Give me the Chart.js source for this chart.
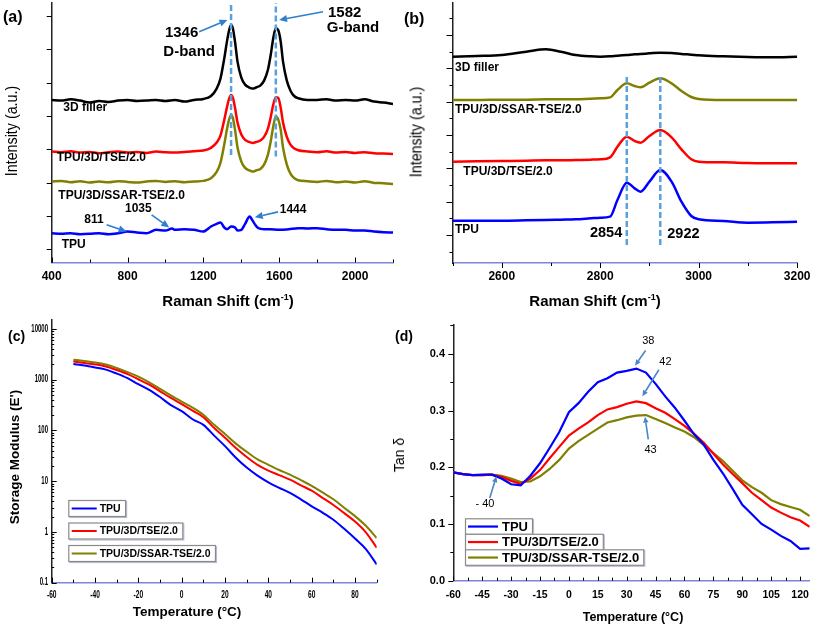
<!DOCTYPE html>
<html>
<head>
<meta charset="utf-8">
<title>Raman spectra and DMA</title>
<script src="https://cdn.jsdelivr.net/npm/chart.js@4.4.1/dist/chart.umd.min.js"></script>
<style>
  body { margin: 0; background: #fff; }
  #fig { position: relative; width: 817px; height: 627px; overflow: hidden; font-family: "Liberation Sans", Arial, sans-serif; color: #000; }
  #fig canvas { position: absolute; }
  .lbl { position: absolute; white-space: nowrap; line-height: 1; }
  .rot { transform: translate(-50%, -50%) rotate(-90deg); }
  .rotn { transform: translate(-50%, -50%) rotate(-90deg) scaleX(0.84); }
  .ctr { transform: translate(-50%, -50%); }
  .sup { font-size: 9px; position: relative; top: -6px; }
</style>
</head>
<body>
<div id="fig">
  <canvas id="ramanLow" width="410" height="310" style="left:0;top:0"></canvas>
  <canvas id="ramanHigh" width="407" height="310" style="left:410px;top:0"></canvas>
  <canvas id="storage" width="410" height="317" style="left:0;top:310px"></canvas>
  <canvas id="tandelta" width="432" height="317" style="left:385px;top:310px"></canvas>

  <div class="lbl" style="left:3px;top:9px;font-weight:bold;font-size:16px">(a)</div>
  <div class="lbl" style="left:404px;top:11px;font-weight:bold;font-size:16px">(b)</div>
  <div class="lbl" style="left:8px;top:329px;font-weight:bold;font-size:14px">(c)</div>
  <div class="lbl" style="left:395px;top:329px;font-weight:bold;font-size:14px">(d)</div>

  <div class="lbl ctr" style="left:228px;top:300px;font-weight:bold;font-size:15px">Raman Shift (cm<span class="sup">-1</span>)</div>
  <div class="lbl ctr" style="left:595px;top:300px;font-weight:bold;font-size:15px">Raman Shift (cm<span class="sup">-1</span>)</div>
  <div class="lbl rotn" style="left:11px;top:131px;font-size:17px">Intensity (a.u.)</div>
  <div class="lbl rotn" style="left:416px;top:132px;font-size:17px">Intensity (a.u.)</div>
  <div class="lbl rot" style="left:15px;top:457px;font-weight:bold;font-size:13.5px">Storage Modulus (E')</div>
  <div class="lbl ctr" style="left:187px;top:612px;font-weight:bold;font-size:13.5px">Temperature (°C)</div>
  <div class="lbl rot" style="left:399px;top:455px;font-size:14px">Tan δ</div>
  <div class="lbl ctr" style="left:633px;top:617px;font-weight:bold;font-size:12.5px">Temperature (°C)</div>
</div>

<script>
// ---- (a) Raman 400-2200 cm-1, stacked, arbitrary units ----
const ramanX = [400,450,500,550,600,650,700,750,800,850,900,950,1000,1050,1100,1150,1200,
  1240,1270,1290,1310,1325,1337,1346,1355,1367,1380,
  1400,1420,1440,1460,1480,1500,1520,1540,
  1555,1568,1582,1595,1608,1620,
  1640,1660,1680,1700,
  1750,1800,1850,1900,1950,2000,2050,2100,2150,2200];
const filler3D = [448,446,450,446,440,445,442,446,448,445,446,448,445,448,443,448,451,
  460,482,512,572,626,660,673,664,622,563,
  515,494,486,482,486,491,506,538,
  583,632,663,657,622,563,
  506,475,459,453,
  448,448,450,446,448,446,450,443,440,436];
const tse20 = [293,291,294,290,292,288,291,293,290,292,289,293,291,290,292,294,296,
  304,320,341,388,428,454,463,456,424,380,
  344,328,322,319,322,326,337,361,
  396,433,456,454,424,380,
  337,313,302,297,
  293,291,294,290,292,289,291,288,287,286];
const ssarTse20 = [203,205,201,204,200,203,201,204,202,200,203,205,202,204,201,203,205,
  213,232,259,314,362,392,403,395,358,305,
  263,244,237,233,237,241,254,283,
  323,367,398,389,358,305,
  254,226,213,207,
  204,202,205,201,203,200,204,199,198,196];
const tpuRamanX = [400,450,500,550,600,650,700,750,800,850,900,950,1000,1035,
  1050,1100,1150,1200,1240,1270,1290,1310,1325,1346,1367,1380,
  1400,1420,1444,1455,1470,1490,1520,1550,1600,1650,1700,
  1750,1800,1850,1900,1950,2000,2050,2100,2150,2200];
const tpuRaman = [48,46,48,45,46,48,45,48,53,50,48,58,56,62,
  58,60,58,53,68,76,80,65,60,68,65,56,
  58,76,98,90,76,63,60,60,58,60,63,
  62,63,60,58,58,56,56,53,51,50];
const ticksXA = [400, 800, 1200, 1600, 2000];
const ticksYA = [0, 100, 200, 300, 400, 500, 600, 700];

// ---- (b) Raman 2500-3200 cm-1 ----
const chX = [2500,2550,2600,2650,2690,2720,2750,2780,2800,2820,2835,2854,2870,2882,2900,2922,2945,2965,2985,3000,3050,3100,3150,3200];
const chFiller = [535,537,540,550,557,550,540,536,535,536,538,540,542,543,545,547,546,543,541,539,536,534,533,535];
const chSsar = [405,405,406,406,407,407,407,409,410,413,435,455,447,443,457,470,455,432,414,408,405,405,405,405];
const chTse = [220,221,222,223,224,224,225,226,227,233,265,295,282,277,297,315,293,257,227,220,218,216,215,215];
const chTpu = [43,43,43,44,45,46,47,50,52,55,105,157,140,130,160,195,160,100,57,47,42,37,38,40];
const ticksXB = [2600, 2800, 3000, 3200];
const ticksYB = [0, 100, 200, 300, 400, 500, 600];

// ---- (c) storage modulus vs temperature ----
const modT = [-50,-45,-40,-35,-30,-25,-20,-15,-10,-5,0,5,10,15,20,25,30,35,40,45,50,55,60,65,70,75,80,85,90];
const modTpu = [2040,1900,1740,1580,1320,1070,815,630,455,316,240,166,129,79,49,29,18.6,12.9,9.5,7.4,5.9,4.4,3.2,2.4,1.74,1.15,0.74,0.46,0.23];
const modTse = [2290,2140,2000,1820,1550,1290,1020,795,590,437,330,245,182,112,72,45,30,21,16.2,13.2,10.7,8.3,6.5,4.7,3.4,2.35,1.6,0.98,0.49];
const modSsar = [2480,2340,2190,1990,1700,1410,1150,890,660,490,370,282,204,129,85,55,38,27,21,16.6,13.5,10.5,8.1,6.0,4.4,3.0,2.05,1.32,0.76];
const ticksXC = [-60, -40, -20, 0, 20, 40, 60, 80];
const ticksYC = [0.1, 1, 10, 100, 1000, 10000];

// ---- (d) tan delta vs temperature ----
const tanT = [-60,-55,-50,-45,-40,-35,-30,-25,-20,-15,-10,-5,0,5,10,15,20,25,30,35,40,45,50,55,60,65,70,75,80,85,90,95,100,105,110,115,120,125];
const tanTpu = [0.191,0.188,0.186,0.187,0.187,0.180,0.170,0.168,
  0.185,0.207,0.234,0.262,0.297,0.313,0.333,0.350,
  0.357,0.367,0.370,0.374,0.367,0.347,0.325,0.305,
  0.282,0.258,0.240,0.213,0.189,0.162,0.134,0.117,
  0.100,0.090,0.079,0.070,0.056,0.057];
const tanTse = [0.191,0.188,0.186,0.186,0.187,0.183,0.176,0.171,
  0.180,0.195,0.216,0.236,0.256,0.268,0.279,0.292,
  0.302,0.306,0.312,0.316,0.313,0.304,0.296,0.285,
  0.273,0.259,0.243,0.224,0.205,0.188,0.172,0.155,
  0.142,0.129,0.120,0.112,0.106,0.095];
const tanSsar = [0.191,0.188,0.186,0.186,0.187,0.185,0.180,0.174,
  0.175,0.184,0.197,0.213,0.233,0.246,0.257,0.268,
  0.279,0.283,0.288,0.291,0.292,0.285,0.278,0.270,
  0.263,0.253,0.239,0.225,0.211,0.194,0.177,0.165,
  0.155,0.142,0.135,0.130,0.125,0.114];
const ticksXD = [-60, -45, -30, -15, 0, 15, 30, 45, 60, 75, 90, 105, 120];
const ticksYD = [0, 0.1, 0.2, 0.3, 0.4];

const LABELS = ["TPU", "TPU/3D/TSE/2.0", "TPU/3D/SSAR-TSE/2.0"];
const SANS = '"Liberation Sans", Arial, sans-serif';
const BLUE = "#0000ff", RED = "#ff0000", OLIVE = "#808000", BLACK = "#000000";
const AXIS_BLUE = "#7f86d9";

// tick marks in/out, major + minor; optional squeezed labels
const tickMarks = {
  id: "tickMarks",
  afterDraw(chart, args, opts) {
    const ctx = chart.ctx;
    const area = chart.chartArea;
    ctx.save();
    ["x", "y"].forEach(id => {
      const o = opts[id];
      if (!o || o.dir === undefined) return;
      const s = chart.scales[id];
      const majors = s.ticks.map(t => t.value);
      let minors = [];
      if (s.type === "logarithmic") {
        majors.forEach(m => { for (let k = 2; k < 10; k++) minors.push(m * k); });
      } else if (o.minor) {
        for (let i = 0; i < majors.length - 1; i++) minors.push((majors[i] + majors[i + 1]) / 2);
        const step = majors[1] - majors[0];
        minors.push(majors[0] - step / 2, majors[majors.length - 1] + step / 2);
      }
      minors = minors.filter(v => v >= s.min && v <= s.max);
      const sign = o.dir === "in" ? 1 : -1;
      ctx.strokeStyle = "#000";
      ctx.lineWidth = 1;
      const draw = (v, len) => {
        const p = Math.round(s.getPixelForValue(v)) + 0.5;
        ctx.beginPath();
        if (id === "x") { ctx.moveTo(p, area.bottom); ctx.lineTo(p, area.bottom - sign * len); }
        else { ctx.moveTo(area.left, p); ctx.lineTo(area.left + sign * len, p); }
        ctx.stroke();
      };
      majors.forEach(v => draw(v, o.len));
      minors.forEach(v => draw(v, o.minorLen));

      if (o.squeeze) {
        ctx.font = "bold " + o.fontSize + "px " + SANS;
        ctx.fillStyle = "#000";
        ctx.textBaseline = "middle";
        majors.forEach(v => {
          const p = s.getPixelForValue(v);
          ctx.save();
          if (id === "x") {
            ctx.translate(p, area.bottom + o.offset);
            ctx.textAlign = "center";
          } else {
            ctx.translate(area.left - o.offset, p);
            ctx.textAlign = "right";
          }
          ctx.scale(o.squeeze, 1);
          ctx.fillText(String(v), 0, 0);
          ctx.restore();
        });
      }
    });
    ctx.restore();
  }
};

function drawArrow(ctx, x1, y1, x2, y2, color, head) {
  const ang = Math.atan2(y2 - y1, x2 - x1);
  const bx = x2 - head * Math.cos(ang), by = y2 - head * Math.sin(ang);
  ctx.strokeStyle = color;
  ctx.fillStyle = color;
  ctx.lineWidth = 1.6;
  ctx.beginPath(); ctx.moveTo(x1, y1); ctx.lineTo(bx, by); ctx.stroke();
  const w = head * 0.45;
  ctx.beginPath();
  ctx.moveTo(x2, y2);
  ctx.lineTo(bx + w * Math.sin(ang), by - w * Math.cos(ang));
  ctx.lineTo(bx - w * Math.sin(ang), by + w * Math.cos(ang));
  ctx.closePath();
  ctx.fill();
}

// labels, arrows, dashed guides placed in data units
const notes = {
  id: "notes",
  afterDatasetsDraw(chart, args, opts) {
    const { ctx, scales: { x, y } } = chart;
    ctx.save();
    (opts.vlines || []).forEach(l => {
      ctx.strokeStyle = opts.lineColor;
      ctx.lineWidth = 2.5;
      ctx.setLineDash([6, 3]);
      const px = x.getPixelForValue(l.x);
      ctx.beginPath();
      ctx.moveTo(px, y.getPixelForValue(l.y1));
      ctx.lineTo(px, y.getPixelForValue(l.y2));
      ctx.stroke();
    });
    ctx.setLineDash([]);
    (opts.arrows || []).forEach(a => {
      drawArrow(ctx, x.getPixelForValue(a.x1), y.getPixelForValue(a.y1),
        x.getPixelForValue(a.x2), y.getPixelForValue(a.y2), opts.arrowColor, opts.head || 7);
    });
    ctx.textBaseline = "middle";
    ctx.fillStyle = "#000";
    (opts.texts || []).forEach(t => {
      ctx.font = (t.weight || opts.weight || "bold") + " " + (t.size || opts.size) + "px " + SANS;
      ctx.textAlign = t.align || "center";
      ctx.fillText(t.text, x.getPixelForValue(t.x), y.getPixelForValue(t.y));
    });
    ctx.restore();
  }
};

// one framed box per series, as in the original figure
const boxLegend = {
  id: "boxLegend",
  afterDraw(chart, args, o) {
    if (!o || o.left === undefined) return;
    const ctx = chart.ctx;
    ctx.save();
    ctx.font = "bold " + o.size + "px " + SANS;
    ctx.textBaseline = "middle";
    chart.data.datasets.forEach((ds, i) => {
      const top = o.top + i * o.step;
      const w = o.pad + o.lineLen + o.gap + ctx.measureText(ds.label).width + o.pad + 1;
      ctx.lineWidth = 1.2;
      ctx.strokeStyle = "#b7bfdc";
      ctx.strokeRect(o.left + 1.5, top + 1.5, w, o.rowH);
      ctx.fillStyle = "#fff";
      ctx.fillRect(o.left, top, w, o.rowH);
      ctx.strokeStyle = "#8a8a8a";
      ctx.strokeRect(o.left + 0.5, top + 0.5, w, o.rowH);
      const cy = top + o.rowH / 2 + 0.5;
      ctx.strokeStyle = ds.borderColor;
      ctx.lineWidth = o.lineWidth;
      ctx.beginPath();
      ctx.moveTo(o.left + o.pad, cy);
      ctx.lineTo(o.left + o.pad + o.lineLen, cy);
      ctx.stroke();
      ctx.fillStyle = "#000";
      ctx.fillText(ds.label, o.left + o.pad + o.lineLen + o.gap, cy + 0.5);
    });
    ctx.restore();
  }
};

function makePanel(id, p) {
  return new Chart(document.getElementById(id), {
    type: "line",
    data: {
      datasets: p.series.map(s => ({
        label: s.label,
        data: s.xs.map((v, i) => ({ x: v, y: s.ys[i] })),
        borderColor: s.color,
        borderWidth: p.lineWidth,
        pointRadius: 0,
        fill: false,
        cubicInterpolationMode: p.smooth ? "monotone" : "default",
        tension: 0
      }))
    },
    options: {
      responsive: false,
      animation: false,
      events: [],
      layout: { padding: p.padding },
      plugins: {
        legend: { display: false },
        tooltip: { enabled: false },
        tickMarks: p.marks,
        notes: p.notes || {},
        boxLegend: p.legend || {}
      },
      scales: {
        x: {
          type: "linear",
          min: p.x.min, max: p.x.max,
          afterBuildTicks: s => { s.ticks = p.x.ticks.map(v => ({ value: v })); },
          afterFit: s => { s.height = p.x.size; },
          grid: { display: false, drawTicks: false },
          border: { display: true, color: AXIS_BLUE, width: 1.5 },
          ticks: {
            display: p.x.labels !== false,
            autoSkip: false, maxRotation: 0, color: "#000",
            padding: p.x.pad || 6,
            font: { family: SANS, size: p.x.fontSize || 10, weight: "bold" },
            callback: v => String(v)
          }
        },
        y: {
          type: p.y.type || "linear",
          min: p.y.min, max: p.y.max,
          afterBuildTicks: s => { s.ticks = p.y.ticks.map(v => ({ value: v })); },
          afterFit: s => { s.width = p.y.size; },
          grid: { display: false, drawTicks: false },
          border: { display: true, color: "#222", width: 1.5 },
          ticks: {
            display: p.y.labels !== false,
            autoSkip: false, color: "#000",
            padding: p.y.pad || 3,
            font: { family: SANS, size: p.y.fontSize || 10, weight: "bold" },
            callback: p.y.fmt || (v => String(v))
          }
        }
      }
    },
    plugins: [tickMarks, notes, boxLegend]
  });
}

makePanel("ramanLow", {
  padding: { left: 0, top: 3, right: 17, bottom: 0 },
  lineWidth: 2.5, smooth: true,
  x: { min: 400, max: 2200, ticks: ticksXA, size: 47.5, pad: 7.3, fontSize: 12 },
  y: { min: -40, max: 739, ticks: ticksYA, size: 51.7, labels: false },
  marks: { x: { dir: "in", len: 5, minorLen: 3, minor: true }, y: { dir: "out", len: 5, minorLen: 3, minor: false } },
  series: [
    { label: "3D filler", xs: ramanX, ys: filler3D, color: BLACK },
    { label: LABELS[1], xs: ramanX, ys: tse20, color: RED },
    { label: LABELS[2], xs: ramanX, ys: ssarTse20, color: OLIVE },
    { label: LABELS[0], xs: tpuRamanX, ys: tpuRaman, color: BLUE }
  ],
  notes: {
    lineColor: "#5aa0dc", arrowColor: "#2f7fd0", size: 12, head: 8,
    vlines: [{ x: 1346, y1: 283, y2: 739 }, { x: 1582, y1: 278, y2: 739 }],
    arrows: [
      { x1: 1178, y1: 653, x2: 1327, y2: 688 },
      { x1: 1831, y1: 713, x2: 1599, y2: 688 },
      { x1: 690, y1: 73, x2: 795, y2: 53 },
      { x1: 927, y1: 103, x2: 1020, y2: 65 },
      { x1: 1594, y1: 112, x2: 1471, y2: 96 }
    ],
    texts: [
      { text: "1346", x: 1085, y: 648, size: 15 },
      { text: "D-band", x: 1125, y: 593, size: 15 },
      { text: "1582", x: 1945, y: 710, size: 15 },
      { text: "G-band", x: 1989, y: 663, size: 15 },
      { text: "811", x: 623, y: 88 },
      { text: "1035", x: 857, y: 121 },
      { text: "1444", x: 1673, y: 118 },
      { text: "3D filler", x: 461, y: 424, align: "left" },
      { text: LABELS[1], x: 426, y: 274, align: "left" },
      { text: LABELS[2], x: 435, y: 160, align: "left" },
      { text: LABELS[0], x: 453, y: 13, align: "left" }
    ]
  }
});

makePanel("ramanHigh", {
  padding: { left: 0, top: 3, right: 16, bottom: 0 },
  lineWidth: 2.5, smooth: true,
  x: { min: 2500, max: 3200, ticks: ticksXB, size: 47, pad: 6.5, fontSize: 12 },
  y: { min: -84, max: 696, ticks: ticksYB, size: 42.5, labels: false },
  marks: { x: { dir: "out", len: 5, minorLen: 3, minor: true }, y: { dir: "out", len: 6, minorLen: 3, minor: true } },
  series: [
    { label: "3D filler", xs: chX, ys: chFiller, color: BLACK },
    { label: LABELS[2], xs: chX, ys: chSsar, color: OLIVE },
    { label: LABELS[1], xs: chX, ys: chTse, color: RED },
    { label: LABELS[0], xs: chX, ys: chTpu, color: BLUE }
  ],
  notes: {
    lineColor: "#5aa0dc", arrowColor: "#2f7fd0", size: 12,
    vlines: [{ x: 2854, y1: -30, y2: 483 }, { x: 2922, y1: -30, y2: 483 }],
    texts: [
      { text: "2854", x: 2812, y: 5, size: 14.5 },
      { text: "2922", x: 2969, y: 3, size: 14.5 },
      { text: "3D filler", x: 2505, y: 502, align: "left" },
      { text: LABELS[2], x: 2505, y: 375, align: "left" },
      { text: LABELS[1], x: 2522, y: 190, align: "left" },
      { text: LABELS[0], x: 2505, y: 17, align: "left" }
    ]
  }
});

makePanel("storage", {
  padding: { left: 0, top: 10, right: 33.3, bottom: 0 },
  lineWidth: 2, smooth: true,
  x: { min: -60, max: 90, ticks: ticksXC, size: 44.3, labels: false },
  y: { type: "logarithmic", min: 0.1, max: 15000, ticks: ticksYC, size: 51.7, labels: false },
  marks: {
    x: { dir: "in", len: 5, minorLen: 3, minor: true, squeeze: 0.66, fontSize: 10, offset: 12.3 },
    y: { dir: "in", len: 5, minorLen: 2.5, squeeze: 0.6, fontSize: 10, offset: 3.7 }
  },
  series: [
    { label: LABELS[0], xs: modT, ys: modTpu, color: BLUE },
    { label: LABELS[1], xs: modT, ys: modTse, color: RED },
    { label: LABELS[2], xs: modT, ys: modSsar, color: OLIVE }
  ],
  legend: { left: 68.3, top: 190, step: 22.5, rowH: 16, pad: 3.4, lineLen: 25, gap: 3, size: 10.5, lineWidth: 2 }
});

makePanel("tandelta", {
  padding: { left: 0, top: 6.7, right: 5.3, bottom: 0 },
  lineWidth: 2.2, smooth: false,
  x: { min: -60, max: 125, ticks: ticksXD, size: 46.3, pad: 8, fontSize: 10.5 },
  y: { min: 0, max: 0.451, ticks: ticksYD, size: 68.3, pad: 8.3, fontSize: 11, fmt: v => v.toFixed(1) },
  marks: { x: { dir: "in", len: 4, minorLen: 3, minor: true }, y: { dir: "out", len: 5, minorLen: 3, minor: true } },
  series: [
    { label: LABELS[0], xs: tanT, ys: tanTpu, color: BLUE },
    { label: LABELS[1], xs: tanT, ys: tanTse, color: RED },
    { label: LABELS[2], xs: tanT, ys: tanSsar, color: OLIVE }
  ],
  legend: { left: 80, top: 208.3, step: 15.5, rowH: 15.5, pad: 3, lineLen: 30, gap: 4, size: 13, lineWidth: 2.2 },
  notes: {
    arrowColor: "#4a86c8", size: 11, weight: "normal", head: 6,
    arrows: [
      { x1: 39.8, y1: 0.406, x2: 34.3, y2: 0.379 },
      { x1: 46.7, y1: 0.372, x2: 38.1, y2: 0.325 },
      { x1: 41.2, y1: 0.249, x2: 39.5, y2: 0.289 },
      { x1: -41.1, y1: 0.146, x2: -37.6, y2: 0.184 }
    ],
    texts: [
      { text: "38", x: 41.2, y: 0.422 },
      { text: "42", x: 50.1, y: 0.386 },
      { text: "43", x: 42.4, y: 0.230 },
      { text: "- 40", x: -43.6, y: 0.136 }
    ]
  }
});
</script>
</body>
</html>
